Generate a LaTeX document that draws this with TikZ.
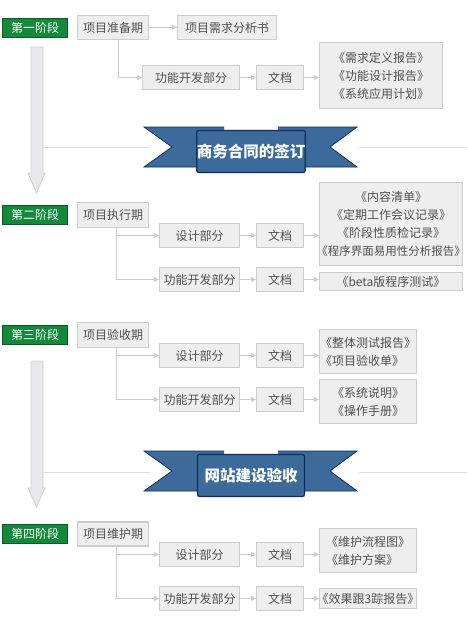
\documentclass[tikz,border=0pt]{standalone}
\usepackage{fontspec}
\setmainfont{Noto Sans CJK SC}
\usetikzlibrary{arrows.meta}
\definecolor{boxfill}{HTML}{EEEEEE}
\definecolor{boxline}{HTML}{CCCCCC}
\definecolor{txt}{HTML}{505050}
\definecolor{gfill}{HTML}{138A3A}
\definecolor{gline}{HTML}{0C5A24}
\definecolor{rfill}{HTML}{3C6B9B}
\definecolor{rline}{HTML}{0E2D5C}
\definecolor{hline}{HTML}{DDDDDD}
\definecolor{afill}{HTML}{E8E8EC}
\definecolor{aline}{HTML}{D0D0D4}
\newcommand\bkl{\makebox[6pt][r]{《}}
\newcommand\bkr{\makebox[6pt][l]{》}}
\begin{document}
\begin{tikzpicture}[x=1pt,y=-1pt,
  box/.style={draw=boxline, line width=1.2pt, fill=boxfill, text=txt,
    font=\fontsize{12}{18}\selectfont, inner sep=0pt, minimum height=24pt},
  gbox/.style={draw=gline, line width=1pt, fill=gfill, text=white,
    font=\fontsize{12}{14}\selectfont, inner sep=0pt, minimum width=65pt, minimum height=19pt},
  conn/.style={draw=boxline, line width=1pt, -{Triangle[length=5pt,width=5pt]}},
  bigarrow/.style={fill=afill, draw=aline, line width=0.8pt},
  tail/.style={fill=rfill, draw=rline, line width=0.8pt},
  ribbonbox/.style={fill=rfill, draw=rline, line width=1.2pt, rounded corners=2pt,
    text=white, font=\fontsize{15.5}{15.5}\selectfont\bfseries, inner sep=0pt,
    minimum width=107pt, minimum height=42pt},
  sep/.style={draw=hline, line width=1pt}
]
\useasboundingbox (0,0) rectangle (467,623);
\fill[white] (0,0) rectangle (467,623);

% ---------- separators and big arrows ----------
\draw[sep] (43,147) -- (467,147);
\draw[sep] (43,472) -- (467,472);
\draw[bigarrow] (31,47) -- (43,47) -- (43,173) -- (45,173) -- (36.5,193) -- (28,173) -- (31,173) -- cycle;
\draw[bigarrow] (31,361) -- (43,361) -- (43,488) -- (45,488) -- (36.5,507) -- (28,488) -- (31,488) -- cycle;

% ---------- ribbon 1 ----------
\fill[white] (150,124) rectangle (359,177);
\draw[tail] (224,127) -- (144,127) -- (172,147) -- (144,167) -- (224,167);
\draw[tail] (278,127) -- (357,127) -- (330,147) -- (357,167) -- (278,167);
\node[ribbonbox] (rb1) at (251,151.5) {商务合同的签订};

% ---------- ribbon 2 ----------
\fill[white] (150,448) rectangle (359,501);
\draw[tail] (224,451) -- (144,451) -- (172,471) -- (144,491) -- (224,491);
\draw[tail] (278,451) -- (357,451) -- (330,471) -- (357,491) -- (278,491);
\node[ribbonbox] (rb2) at (251,475.5) {网站建设验收};

% ---------- stage 1 ----------
\node[gbox] (g1) at (35,28) {第一阶段};
\node[box, minimum width=71pt] (p1) at (113,27.5) {项目准备期};
\node[box, minimum width=99pt] (r1) at (227,27.5) {项目需求分析书};
\node[box, minimum width=97pt] (f1) at (191,77.5) {功能开发部分};
\node[box, minimum width=47pt] (d1) at (280,77.5) {文档};
\node[box, minimum width=123pt, minimum height=66pt, align=center] (l1) at (381,75.5)
  {\bkl 需求定义报告\bkr\\\bkl 功能设计报告\bkr\\\bkl 系统应用计划\bkr};
\draw[conn] (p1) -- (r1);
\draw[conn] ([xshift=5pt]p1.south) |- (f1.west);
\draw[conn] (f1) -- (d1);
\draw[conn] (d1.east) -- (d1.east -| l1.west);

% ---------- stage 2 ----------
\node[gbox] (g2) at (35,214.5) {第二阶段};
\node[box, minimum width=71pt, minimum height=25pt] (p2) at (113,215) {项目执行期};
\node[box, minimum width=80pt] (s2) at (199.5,235.5) {设计部分};
\node[box, minimum width=47pt] (ds2) at (280,235.5) {文档};
\node[box, minimum width=143pt, minimum height=83pt, align=center] (ls2) at (391,224)
  {\bkl 内容清单\bkr\\\bkl 定期工作会议记录\bkr\\\bkl 阶段性质检记录\bkr\\{\fontsize{11.5}{18}\selectfont\bkl 程序界面易用性分析报告\bkr}};
\node[box, minimum width=80pt] (f2) at (199.5,279.5) {功能开发部分};
\node[box, minimum width=47pt] (df2) at (280,279.5) {文档};
\node[box, minimum width=143pt, minimum height=18pt] (lf2) at (391,281.5) {\bkl beta版程序测试\bkr};
\draw[conn] ([xshift=3pt]p2.south) |- (s2.west);
\draw[conn] ([xshift=3pt]p2.south) |- (f2.west);
\draw[conn] (s2) -- (ds2);
\draw[conn] (ds2.east) -- (ds2.east -| ls2.west);
\draw[conn] (f2) -- (df2);
\draw[conn] (df2.east) -- (df2.east -| lf2.west);

% ---------- stage 3 ----------
\node[gbox] (g3) at (35,334.5) {第三阶段};
\node[box, minimum width=71pt, minimum height=25pt] (p3) at (113,335) {项目验收期};
\node[box, minimum width=80pt] (s3) at (199.5,355.5) {设计部分};
\node[box, minimum width=47pt] (ds3) at (280,355.5) {文档};
\node[box, minimum width=97pt, minimum height=44pt, align=left] (ls3) at (368,351.5)
  {\bkl 整体测试报告\bkr\\\bkl 项目验收单\bkr};
\node[box, minimum width=80pt] (f3) at (199.5,399.5) {功能开发部分};
\node[box, minimum width=47pt] (df3) at (280,399.5) {文档};
\node[box, minimum width=97pt, minimum height=44pt, align=center] (lf3) at (368,401.5)
  {\bkl 系统说明\bkr\\\bkl 操作手册\bkr};
\draw[conn] ([xshift=3pt]p3.south) |- (s3.west);
\draw[conn] ([xshift=3pt]p3.south) |- (f3.west);
\draw[conn] (s3) -- (ds3);
\draw[conn] (ds3.east) -- (ds3.east -| ls3.west);
\draw[conn] (f3) -- (df3);
\draw[conn] (df3.east) -- (df3.east -| lf3.west);

% ---------- stage 4 ----------
\node[gbox] (g4) at (35,533.5) {第四阶段};
\node[box, minimum width=71pt] (p4) at (113,534) {项目维护期};
\node[box, minimum width=80pt] (s4) at (199.5,554.5) {设计部分};
\node[box, minimum width=47pt] (ds4) at (280,554.5) {文档};
\node[box, minimum width=97pt, minimum height=44pt, align=left] (ls4) at (368,550.5)
  {\bkl 维护流程图\bkr\\\bkl 维护方案\bkr};
\node[box, minimum width=80pt] (f4) at (199.5,598.5) {功能开发部分};
\node[box, minimum width=47pt] (df4) at (280,598.5) {文档};
\node[box, minimum width=97pt, minimum height=20pt] (lf4) at (368,598.5) {\bkl 效果跟3踪报告\bkr};
\draw[conn] ([xshift=3pt]p4.south) |- (s4.west);
\draw[conn] ([xshift=3pt]p4.south) |- (f4.west);
\draw[conn] (s4) -- (ds4);
\draw[conn] (ds4.east) -- (ds4.east -| ls4.west);
\draw[conn] (f4) -- (df4);
\draw[conn] (df4.east) -- (df4.east -| lf4.west);
\end{tikzpicture}
\end{document}
